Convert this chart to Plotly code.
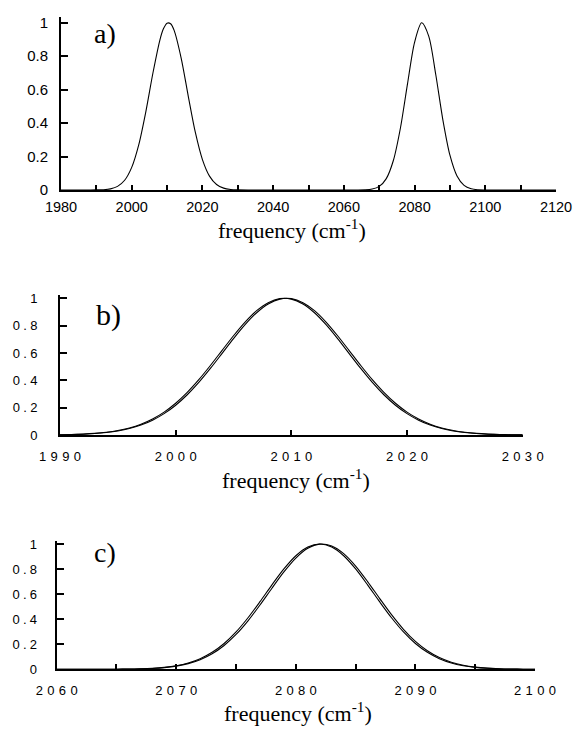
import plotly.graph_objects as go

# ---------------- data ----------------
# panel a) full spectrum
a_freq = [1980, 1988, 1990, 1992, 1994, 1996, 1998, 2000, 2002, 2004, 2006, 2008, 2009,
          2010, 2011, 2012, 2014, 2016, 2018, 2020, 2022, 2024, 2026, 2028, 2030, 2034,
          2062, 2066, 2068, 2070, 2072, 2074, 2076, 2078, 2080, 2082, 2084, 2086,
          2088, 2090, 2092, 2094, 2096, 2098, 2100, 2104, 2120]
a_int = [0, 0, 0.0005, 0.0019, 0.0069, 0.0216, 0.0582, 0.1353, 0.2713, 0.4689, 0.6991, 0.8990, 0.9644,
         0.9970, 0.9934, 0.9538, 0.7869, 0.5600, 0.3437, 0.1819, 0.0831, 0.0327, 0.0111, 0.0033, 0.0008, 0,
         0, 0.0011, 0.0055, 0.0214, 0.0681, 0.1761, 0.3705, 0.6341, 0.8825, 0.9990, 0.9197, 0.6887,
         0.4195, 0.2078, 0.0837, 0.0274, 0.0073, 0.0016, 0.0003, 0, 0]

# panel b) low-frequency band, two curves
b_freq = [1990, 1991, 1992, 1993, 1994, 1995, 1996, 1997, 1998, 1999,
          2000, 2001, 2002, 2003, 2004, 2005, 2006, 2007, 2008, 2009,
          2010, 2011, 2012, 2013, 2014, 2015, 2016, 2017, 2018, 2019,
          2020, 2021, 2022, 2023, 2024, 2025, 2026, 2027, 2028, 2029, 2030]
b_int1 = [0.0020, 0.0037, 0.0067, 0.0117, 0.0198, 0.0325, 0.0514, 0.0788, 0.1167, 0.1673,
          0.2321, 0.3115, 0.4045, 0.5081, 0.6175, 0.7261, 0.8261, 0.9092, 0.9681, 0.9974,
          0.9941, 0.9586, 0.8943, 0.8072, 0.7049, 0.5955, 0.4868, 0.3849, 0.2945, 0.2180,
          0.1561, 0.1082, 0.0725, 0.0470, 0.0295, 0.0179, 0.0105, 0.0060, 0.0033, 0.0017, 0.0009]
b_int2 = [0.0017, 0.0033, 0.0060, 0.0105, 0.0179, 0.0295, 0.0470, 0.0725, 0.1082, 0.1561,
          0.2180, 0.2945, 0.3849, 0.4868, 0.5955, 0.7049, 0.8072, 0.8943, 0.9586, 0.9941,
          0.9974, 0.9681, 0.9092, 0.8261, 0.7261, 0.6175, 0.5081, 0.4045, 0.3115, 0.2321,
          0.1673, 0.1167, 0.0788, 0.0514, 0.0325, 0.0198, 0.0117, 0.0067, 0.0037, 0.0020, 0.0010]

# panel c) high-frequency band, two curves
c_freq = [2060, 2061, 2062, 2063, 2064, 2065, 2066, 2067, 2068, 2069,
          2070, 2071, 2072, 2073, 2074, 2075, 2076, 2077, 2078, 2079,
          2080, 2081, 2082, 2083, 2084, 2085, 2086, 2087, 2088, 2089,
          2090, 2091, 2092, 2093, 2094, 2095, 2096, 2097, 2098, 2099, 2100]
c_int1 = [0, 0, 0, 0.0001, 0.0003, 0.0008, 0.0018, 0.0039, 0.0079, 0.0154,
          0.0286, 0.0504, 0.0847, 0.1353, 0.2059, 0.2982, 0.4111, 0.5394, 0.6736, 0.8007,
          0.9060, 0.9756, 1.0, 0.9756, 0.9060, 0.8007, 0.6736, 0.5394, 0.4111, 0.2982,
          0.2059, 0.1353, 0.0847, 0.0504, 0.0286, 0.0154, 0.0079, 0.0039, 0.0018, 0.0008, 0.0003]
c_int2 = [0, 0, 0.0001, 0.0001, 0.0003, 0.0007, 0.0015, 0.0033, 0.0069, 0.0135,
          0.0253, 0.0452, 0.0766, 0.1237, 0.1901, 0.2780, 0.3871, 0.5129, 0.6469, 0.7766,
          0.8874, 0.9651, 0.9990, 0.9843, 0.9231, 0.8240, 0.7001, 0.5662, 0.4358, 0.3193,
          0.2226, 0.1478, 0.0934, 0.0561, 0.0321, 0.0175, 0.0091, 0.0045, 0.0021, 0.0009, 0.0004]

# tick values / labels
S = "\u2004"
T = "\u2005"
a_xticks = [1980, 2000, 2020, 2040, 2060, 2080, 2100, 2120]
a_xlabels = ["1980", "2000", "2020", "2040", "2060", "2080", "2100", "2120"]
a_xminor = [1990, 2010, 2030, 2050, 2070, 2090, 2110]
b_xticks = [1990, 2000, 2010, 2020, 2030]
b_xlabels = [S.join("1990"), S.join("2000"), S.join("2010"), S.join("2020"), S.join("2030")]
c_xticks = [2060, 2070, 2080, 2090, 2100]
c_xlabels = [S.join("2060"), S.join("2070"), S.join("2080"), S.join("2090"), S.join("2100")]
c_xminor = [2065, 2075, 2085, 2095]
y_ticks = [0, 0.2, 0.4, 0.6, 0.8, 1]
a_ylabels = ["0", "0.2", "0.4", "0.6", "0.8", "1"]
bc_ylabels = ["0", T.join("0.2"), T.join("0.4"), T.join("0.6"), T.join("0.8"), "1"]

W, H = 573, 729
line = dict(color="black", width=1.1, shape="spline", smoothing=0.8)

fig = go.Figure()
fig.add_trace(go.Scatter(x=a_freq, y=a_int, xaxis="x", yaxis="y", mode="lines", line=line))
fig.add_trace(go.Scatter(x=b_freq, y=b_int1, xaxis="x2", yaxis="y2", mode="lines", line=line))
fig.add_trace(go.Scatter(x=b_freq, y=b_int2, xaxis="x2", yaxis="y2", mode="lines", line=line))
fig.add_trace(go.Scatter(x=c_freq, y=c_int1, xaxis="x3", yaxis="y3", mode="lines", line=line))
fig.add_trace(go.Scatter(x=c_freq, y=c_int2, xaxis="x3", yaxis="y3", mode="lines", line=line))


def px_x(p):
    return p / W


def px_y(p):
    return 1 - p / H


def xax(x0, x1, rng, tv, tt, size, standoff, anchor, minor_vals=None):
    d = dict(domain=[px_x(x0), px_x(x1)], range=rng, tickvals=tv, ticktext=tt,
             ticks="inside", ticklen=5, tickwidth=1.5, tickcolor="black",
             showline=True, linecolor="black", linewidth=2, showgrid=False, zeroline=False,
             tickfont=dict(family="Liberation Sans, Arial, sans-serif", size=size, color="black"),
             anchor=anchor, ticklabelstandoff=standoff, fixedrange=True, automargin=False)
    if minor_vals:
        d["minor"] = dict(tickmode="array", tickvals=minor_vals, ticks="inside", ticklen=5,
                          tickwidth=1.5, tickcolor="black", showgrid=False)
    return d


def yax(ytop, ybot, rng, tt, size, standoff, anchor):
    return dict(domain=[px_y(ybot), px_y(ytop)], range=rng, tickvals=y_ticks, ticktext=tt,
                ticks="inside", ticklen=7, tickwidth=1.5, tickcolor="black",
                showline=True, linecolor="black", linewidth=2, showgrid=False, zeroline=False,
                tickfont=dict(family="Liberation Sans, Arial, sans-serif", size=size, color="black"),
                anchor=anchor, ticklabelstandoff=standoff, fixedrange=True, automargin=False)


title_txt = "frequency (cm<sup>-1</sup>)"
serif = "Liberation Serif, Times New Roman, serif"

annotations = []
for xc, yc in [(291.5, 229), (296, 479), (298, 712)]:
    annotations.append(dict(text=title_txt, x=px_x(xc), y=px_y(yc), xref="paper", yref="paper",
                            xanchor="center", yanchor="middle", showarrow=False,
                            font=dict(family=serif, size=22, color="black")))
for lab, xc, yc, sz in [("a)", 105, 33, 28), ("b)", 108, 315, 30), ("c)", 105, 552, 28)]:
    annotations.append(dict(text=lab, x=px_x(xc), y=px_y(yc), xref="paper", yref="paper",
                            xanchor="center", yanchor="middle", showarrow=False,
                            font=dict(family=serif, size=sz, color="black")))

fig.update_layout(
    template="none",
    width=W, height=H,
    margin=dict(l=0, r=0, t=0, b=0, autoexpand=False),
    paper_bgcolor="white", plot_bgcolor="white",
    showlegend=False,
    xaxis=xax(61, 556, [1980, 2120], a_xticks, a_xlabels, 14.5, 3, "y", a_xminor),
    yaxis=yax(17.3, 190, [0, 1.032], a_ylabels, 15, 8, "x"),
    xaxis2=xax(60, 522.7, [1990, 2030], b_xticks, b_xlabels, 13, 8, "y2"),
    yaxis2=yax(295, 435, [0, 1.024], bc_ylabels, 13, 18, "x2"),
    xaxis3=xax(56.7, 535, [2060, 2100], c_xticks, c_xlabels, 13, 8, "y3", c_xminor),
    yaxis3=yax(540.7, 669.3, [0, 1.026], bc_ylabels, 13, 15, "x3"),
    annotations=annotations,
)

fig.write_html("out.html", config={"displayModeBar": False},
               post_script="document.body.style.margin='0';document.body.style.overflow='hidden';")
